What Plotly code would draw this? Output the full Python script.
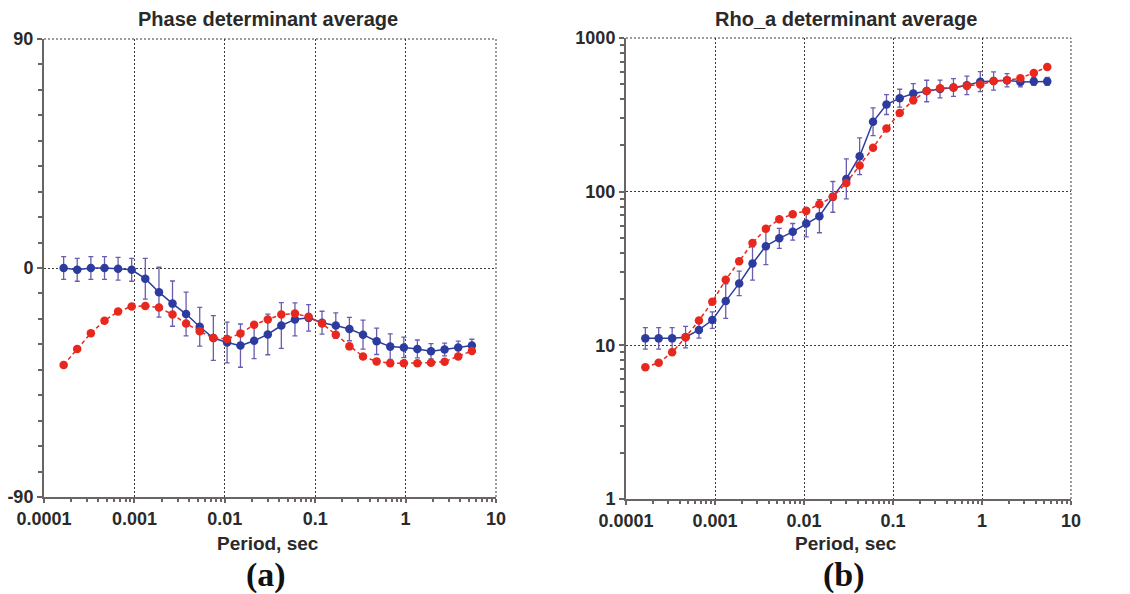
import plotly.graph_objects as go

# ---------------- data ----------------
period = [0.000165, 0.000233, 0.00033, 0.000467, 0.00066, 0.000933, 0.00132, 0.00187,
          0.00264, 0.00373, 0.00528, 0.00747, 0.0106, 0.0149, 0.0211, 0.0299, 0.0422,
          0.0597, 0.0845, 0.119, 0.169, 0.239, 0.338, 0.478, 0.676, 0.956, 1.35, 1.91,
          2.7, 3.82, 5.41]

phase_red = [-38.1, -31.8, -25.6, -20.7, -17.1, -15.1, -14.9, -15.5, -18.3, -21.8, -24.9,
             -27.5, -27.9, -25.7, -22.3, -20.2, -18.3, -17.9, -19.2, -21.8, -26.2, -30.8,
             -34.8, -36.7, -37.4, -37.4, -37.4, -37.2, -36.8, -34.8, -32.6]

phase_blue = [0.0, -0.7, 0.0, 0.0, -0.3, -0.7, -4.2, -9.5, -14.0, -18.1, -23.1, -27.5,
              -29.3, -30.5, -28.6, -26.1, -22.6, -20.2, -19.6, -21.5, -22.6, -24.0, -26.2,
              -28.8, -30.9, -31.2, -31.8, -32.7, -32.0, -31.2, -30.5]

phase_blue_err = [4.5, 4.5, 4.5, 4.5, 4.5, 4.5, 8.0, 9.8, 8.9, 8.6, 7.6, 8.8, 8.0, 8.5,
                  7.0, 8.0, 9.0, 6.5, 5.2, 4.5, 5.0, 4.6, 5.7, 5.2, 5.0, 4.0, 3.5, 3.0,
                  2.5, 2.5, 2.5]

rho_red = [7.2, 7.7, 9.0, 11.3, 14.5, 19.2, 26.7, 35.3, 46.4, 57.3, 66.2, 71.4, 75.0, 82.9,
           92.6, 114, 148, 193, 258, 325, 394, 452, 471, 476, 488, 498, 525, 531, 547,
           592, 647]

rho_blue = [11.1, 11.1, 11.1, 11.3, 12.6, 14.6, 19.4, 25.3, 34.1, 44.2, 49.7, 54.8, 62.1,
            69.3, 92.5, 121, 170, 285, 369, 406, 435, 452, 466, 476, 492, 520, 525, 531,
            518, 522, 522]

# error half-width in decades (log10 units)
rho_blue_err_dec = [0.07, 0.07, 0.07, 0.07, 0.054, 0.054, 0.113, 0.08, 0.108, 0.12, 0.065,
                    0.054, 0.087, 0.108, 0.10, 0.13, 0.12, 0.09, 0.065, 0.058, 0.065, 0.07,
                    0.058, 0.058, 0.06, 0.065, 0.06, 0.043, 0.033, 0.026, 0.026]

x_tickvals = [0.0001, 0.001, 0.01, 0.1, 1, 10]
x_ticktext = ["0.0001", "0.001", "0.01", "0.1", "1", "10"]
phase_tickvals = [-90, 0, 90]
phase_ticktext = ["-90", "0", "90"]
rho_tickvals = [1, 10, 100, 1000]
rho_ticktext = ["1", "10", "100", "1000"]

titles = ["Phase determinant average", "Rho_a determinant average"]
xlabel = "Period, sec"
panel_labels = ["(a)", "(b)"]

# ---------------- styles ----------------
RED = "#e8281e"
BLUE = "#2c3b9e"
ERRC = "#6a5cae"
AXC = "#6a6462"
GRIDC = "#3a3a3a"
TXT = "#2a2a2a"
FONT = "Liberation Sans, Arial, sans-serif"
GDASH = "2px,2px"

rho_up = [v * (10 ** e) - v for v, e in zip(rho_blue, rho_blue_err_dec)]
rho_dn = [v - v / (10 ** e) for v, e in zip(rho_blue, rho_blue_err_dec)]

fig = go.Figure()

# Left panel
fig.add_trace(go.Scatter(
    x=period, y=phase_blue, mode="lines+markers", xaxis="x", yaxis="y",
    line=dict(color=BLUE, width=1.5), marker=dict(color=BLUE, size=8.5),
    error_y=dict(type="data", array=phase_blue_err, color=ERRC, thickness=1.3, width=2.5),
    showlegend=False))
fig.add_trace(go.Scatter(
    x=period, y=phase_red, mode="lines+markers", xaxis="x", yaxis="y",
    line=dict(color=RED, width=1.5, dash="4px,3px"), marker=dict(color=RED, size=8.5),
    showlegend=False))

# Right panel
fig.add_trace(go.Scatter(
    x=period, y=rho_blue, mode="lines+markers", xaxis="x2", yaxis="y2",
    line=dict(color=BLUE, width=1.5), marker=dict(color=BLUE, size=8.5),
    error_y=dict(type="data", symmetric=False, array=rho_up, arrayminus=rho_dn,
                 color=ERRC, thickness=1.3, width=2.5),
    showlegend=False))
fig.add_trace(go.Scatter(
    x=period, y=rho_red, mode="lines+markers", xaxis="x2", yaxis="y2",
    line=dict(color=RED, width=1.5, dash="4px,3px"), marker=dict(color=RED, size=8.5),
    showlegend=False))

W, H = 1130, 594
def fx(px):
    return px / W
def fy(py):
    return 1 - py / H

tickfont = dict(family=FONT, size=18, color=TXT, weight="bold")

xcommon = dict(
    type="log", range=[-4, 1], tickvals=x_tickvals, ticktext=x_ticktext,
    showline=True, linecolor=AXC, linewidth=2, ticks="outside", ticklen=4,
    tickcolor=AXC, tickwidth=1.5, showgrid=True, gridcolor=GRIDC, griddash=GDASH,
    gridwidth=1, zeroline=False, tickfont=tickfont, automargin=False,
    minor=dict(ticks="outside", ticklen=3, tickcolor=AXC, dtick="D1", showgrid=False),
)

fig.update_layout(
    width=W, height=H, margin=dict(l=0, r=0, t=0, b=0),
    paper_bgcolor="white", plot_bgcolor="white",
    xaxis=dict(domain=[fx(44), fx(496)], anchor="y", **xcommon),
    xaxis2=dict(domain=[fx(626), fx(1071)], anchor="y2", **xcommon),
    yaxis=dict(domain=[fy(497), fy(39)], anchor="x", range=[-90, 90],
               tickvals=phase_tickvals, ticktext=phase_ticktext,
               showline=True, linecolor=AXC, linewidth=2, ticks="outside", ticklen=5,
               tickcolor=AXC, tickwidth=1.5, showgrid=True, gridcolor=GRIDC,
               griddash=GDASH, gridwidth=1, zeroline=False, tickfont=tickfont,
               automargin=False,
               minor=dict(ticks="outside", ticklen=4, tickcolor=AXC, dtick=10, showgrid=False)),
    yaxis2=dict(domain=[fy(499), fy(38)], anchor="x2", type="log", range=[0, 3],
                tickvals=rho_tickvals, ticktext=rho_ticktext,
                showline=True, linecolor=AXC, linewidth=2, ticks="outside", ticklen=5,
                tickcolor=AXC, tickwidth=1.5, showgrid=True, gridcolor=GRIDC,
                griddash=GDASH, gridwidth=1, zeroline=False, tickfont=tickfont,
                automargin=False,
                minor=dict(ticks="outside", ticklen=4, tickcolor=AXC, dtick="D1", showgrid=False)),
)

# Border (top/right) dotted lines
for xr, yr in [("x domain", "y domain"), ("x2 domain", "y2 domain")]:
    fig.add_shape(type="line", xref=xr, yref=yr, x0=0, x1=1, y0=1, y1=1,
                  line=dict(color=GRIDC, width=1, dash=GDASH))
    fig.add_shape(type="line", xref=xr, yref=yr, x0=1, x1=1, y0=0, y1=1,
                  line=dict(color=GRIDC, width=1, dash=GDASH))

# Titles, axis labels, panel labels
centers = [270, 848]
for i, cx in enumerate(centers):
    fig.add_annotation(text="<b>%s</b>" % titles[i], xref="paper", yref="paper",
                       x=fx(cx - 2), y=fy(19), showarrow=False,
                       font=dict(family=FONT, size=20, color=TXT),
                       xanchor="center", yanchor="middle")
    fig.add_annotation(text="<b>%s</b>" % xlabel, xref="paper", yref="paper",
                       x=fx(cx - 2), y=fy(543), showarrow=False,
                       font=dict(family=FONT, size=19, color=TXT),
                       xanchor="center", yanchor="middle")
    fig.add_annotation(text="<b>%s</b>" % panel_labels[i], xref="paper", yref="paper",
                       x=fx(cx - 4), y=fy(575), showarrow=False,
                       font=dict(family="Liberation Serif, Times New Roman, serif", size=34,
                                 color="#111111"),
                       xanchor="center", yanchor="middle")

fig.write_html("out.html")
